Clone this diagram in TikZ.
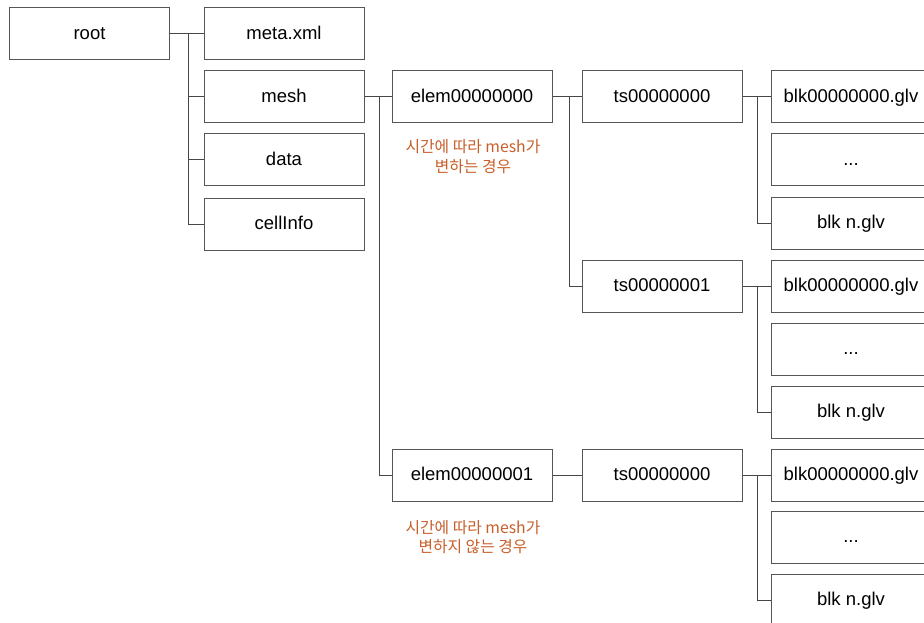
\documentclass[tikz,border=0pt]{standalone}
\usepackage{fontspec}
\setmainfont{Liberation Sans}
\newfontfamily\kr{Noto Sans CJK KR}
\definecolor{linegray}{RGB}{70,70,70}
\definecolor{boxgray}{RGB}{85,85,85}
\definecolor{notecol}{RGB}{200,95,42}
\begin{document}
\begin{tikzpicture}[x=1pt,y=-1pt,
  fbox/.style={draw=boxgray,line width=1pt,fill=white,minimum width=160pt,minimum height=52pt,inner sep=0pt,text height=14.5pt,text depth=3pt,font=\fontsize{18.5}{22}\selectfont},
  conn/.style={draw=linegray,line width=1pt},
  note/.style={text=notecol,font=\kr\fontsize{15.8}{19.5}\selectfont,align=center,inner sep=0pt}]
\path[use as bounding box] (0,0) rectangle (924,623);
\fill[white] (0,0) rectangle (924,623);
\clip (0,0) rectangle (924,623);
% column 1 and 2
\node[fbox] (root) at (89.5,34) {root};
\node[fbox] (meta) at (284,34) {meta.xml};
\node[fbox] (mesh) at (284,97) {mesh};
\node[fbox] (data) at (284,160) {data};
\node[fbox] (cell) at (284,224) {cellInfo};
% column 3
\node[fbox] (elemA) at (472,97) {elem00000000};
\node[fbox] (elemB) at (472,475) {elem00000001};
% column 4
\node[fbox] (tsA) at (662,97) {ts00000000};
\node[fbox] (tsB) at (662,286) {ts00000001};
\node[fbox] (tsC) at (662,475) {ts00000000};
% column 5
\node[fbox] (bA0) at (851,97) {blk00000000.glv};
\node[fbox] (bA1) at (851,160) {...};
\node[fbox] (bA2) at (851,223) {blk n.glv};
\node[fbox] (bB0) at (851,286) {blk00000000.glv};
\node[fbox] (bB1) at (851,349) {...};
\node[fbox] (bB2) at (851,412) {blk n.glv};
\node[fbox] (bC0) at (851,475) {blk00000000.glv};
\node[fbox] (bC1) at (851,537) {...};
\node[fbox] (bC2) at (851,600) {blk n.glv};
% notes
\node[note] (noteA) at (473,156.5) {시간에 따라 mesh가\\변하는 경우};
\node[note] (noteB) at (473,537) {시간에 따라 mesh가\\변하지 않는 경우};
% connectors
\draw[conn] (root.east) -- (meta.west);
\draw[conn] (root.east) -- ++(18,0) |- (mesh.west);
\draw[conn] (root.east) -- ++(18,0) |- (data.west);
\draw[conn] (root.east) -- ++(18,0) |- (cell.west);
\draw[conn] (mesh.east) -- (elemA.west);
\draw[conn] (mesh.east) -- ++(15,0) |- (elemB.west);
\draw[conn] (elemA.east) -- (tsA.west);
\draw[conn] (elemA.east) -- ++(17,0) |- (tsB.west);
\draw[conn] (elemB.east) -- (tsC.west);
\draw[conn] (tsA.east) -- (bA0.west);
\draw[conn] (tsA.east) -- ++(15,0) |- (bA2.west);
\draw[conn] (tsB.east) -- (bB0.west);
\draw[conn] (tsB.east) -- ++(15,0) |- (bB2.west);
\draw[conn] (tsC.east) -- (bC0.west);
\draw[conn] (tsC.east) -- ++(15,0) |- (bC2.west);
\end{tikzpicture}
\end{document}
